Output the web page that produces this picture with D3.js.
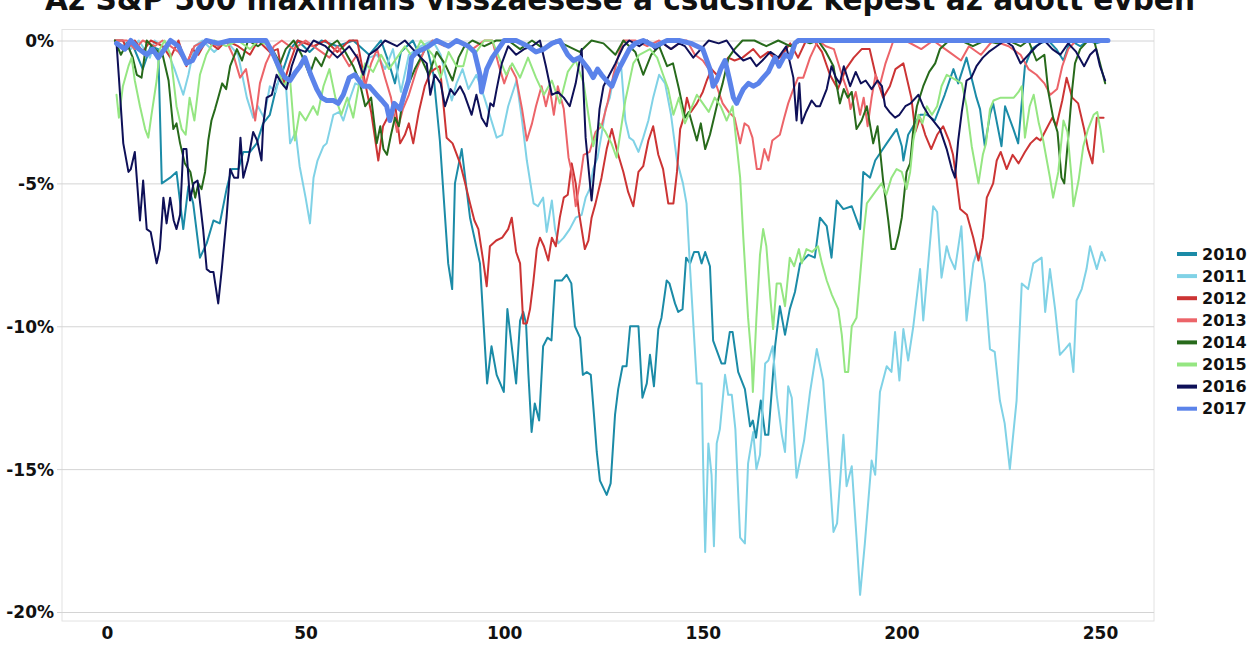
<!DOCTYPE html>
<html><head><meta charset="utf-8">
<script src="https://cdn.jsdelivr.net/npm/d3@7"></script>
<style>
html,body{margin:0;padding:0;background:#fff;}
svg{display:block;font-family:"DejaVu Sans",sans-serif;font-weight:bold;}
</style></head><body>
<svg id="chart" width="1254" height="646"></svg>
<script>
const title = "Az S&P 500 maximális visszaesése a csúcshoz képest az adott évben";
const years = ["2010","2011","2012","2013","2014","2015","2016","2017"];
const colors = ["#1b8ba7","#80d2e6","#cc3434","#ec6469","#276a1b","#95e682","#0e1058","#5b83ea"];
const yTicks = [0,-5,-10,-15,-20];
const xTicks = [0,50,100,150,200,250];

// [trading day, drawdown %]
const s2010 = [[2,0],[4,-0.2],[6,0],[9,-1.0],[11,-0.2],[12.9,-0.3],[13.8,-5.0],[15.9,-4.8],[17.5,-4.6],[19.2,-6.6],[20.5,-5.1],[21.7,-5.7],[23.4,-7.6],[25.1,-7.1],[26.8,-6.3],[28.4,-6.4],[30.1,-5.2],[31.4,-4.5],[33.1,-4.5],[34.3,-3.9],[36,-3.9],[37.7,-3.6],[39.3,-2.9],[41,-2.6],[42.7,-1.6],[44.4,-1.0],[46.1,-0.3],[48,0],[51,-0.4],[54,0],[58,-0.2],[62,0],[66,-0.5],[69,0],[71,-0.8],[72.5,-1.5],[74,-0.4],[77,0],[79,-0.6],[80.5,-0.2],[82.2,-1.2],[83.8,-3.5],[85.9,-7.8],[86.9,-8.7],[87.6,-5.0],[89.3,-3.8],[91.4,-6.2],[93.9,-7.8],[95.7,-12.0],[96.8,-10.7],[98.1,-11.7],[99.9,-12.3],[100.8,-9.4],[101.9,-10.7],[103,-12.0],[104,-9.8],[104.8,-9.5],[105.5,-9.9],[106.1,-11.7],[106.9,-13.7],[107.7,-12.7],[108.8,-13.3],[109.8,-10.7],[110.9,-10.4],[111.9,-10.5],[112.8,-8.4],[114.5,-8.4],[115.7,-8.2],[116.9,-8.5],[117.8,-10.0],[119.1,-10.4],[119.8,-11.7],[120.8,-11.6],[121.8,-11.7],[122.6,-13.1],[123.3,-14.4],[124.1,-15.4],[125.8,-15.9],[126.8,-15.5],[127.9,-13.1],[128.7,-12.2],[129.8,-11.4],[130.8,-11.4],[131.7,-10.0],[133.8,-10.0],[134.8,-12.5],[135.9,-12.0],[136.7,-11.0],[137.7,-12.1],[138.8,-10.1],[139.6,-9.7],[140.9,-8.4],[141.6,-8.5],[143,-9.2],[143.8,-9.5],[144.9,-9.4],[145.8,-7.6],[146.8,-7.8],[147.8,-7.4],[148.9,-7.4],[149.7,-7.8],[150.6,-7.4],[151.8,-7.9],[152.6,-10.5],[154.7,-11.3],[155.6,-11.3],[156.8,-10.2],[157.5,-10.2],[158.1,-10.8],[158.9,-11.6],[160.6,-12.2],[161.9,-13.5],[162.6,-13.3],[163.4,-13.9],[164.6,-12.6],[165.7,-13.8],[166.5,-13.8],[167.4,-12.2],[168.2,-10.7],[169.4,-9.3],[170.7,-10.3],[171.9,-9.4],[173.2,-8.8],[174.5,-7.8],[176.6,-7.5],[178.2,-7.6],[179.5,-6.2],[181.2,-6.5],[182.4,-7.6],[183.7,-5.6],[185.4,-5.9],[187.5,-5.8],[189.6,-6.6],[190.4,-4.6],[192.1,-4.8],[193.4,-4.2],[196.3,-3.6],[198.8,-3.1],[200.1,-3.7],[200.5,-4.2],[201.7,-3.3],[204.7,-2.6],[206.4,-2.6],[208.4,-2.8],[210.9,-1.9],[213.1,-1.0],[214.3,-1.5],[216.4,-0.6],[218.9,-2.0],[219.8,-2.4],[221,-3.7],[222.3,-2.6],[223.1,-2.2],[225.2,-3.7],[226.1,-2.3],[228.2,-3.1],[229.4,-3.6],[231.1,-0.9],[232.8,-0.3],[234.9,-0.1],[237,0],[239,-0.3],[240.8,-0.7],[242.5,0],[245,-0.2],[247,0],[249,-0.1],[251.5,0]];
const s2011 = [[2,0],[4,0],[6,-0.3],[8,0],[10.8,-0.6],[12,0],[15,-0.3],[17,-1.0],[19.2,-1.9],[20.5,-1.2],[22,-0.2],[24,0],[27,-0.4],[30,0],[33,-0.5],[35.2,-2.0],[36.8,-2.7],[38,-2.3],[39.5,-2.7],[41,-1.6],[42.5,-1.8],[44,-0.9],[45,-1.5],[46.1,-3.6],[47.5,-3.2],[48.5,-4.4],[50,-5.5],[51.1,-6.4],[52,-4.8],[53,-4.2],[54.5,-3.7],[55.3,-3.6],[57,-2.6],[58.5,-2.5],[59.5,-2.8],[61,-2.1],[62.5,-1.5],[64,-1.6],[66,-0.6],[68,-0.5],[70,-1.0],[72,-0.3],[74,-1.8],[76,-0.5],[79,-0.2],[82,0],[84,-0.5],[86.8,-2.1],[88,-1.5],[89.5,-1.0],[91,-1.7],[93,-1.2],[95,-2.0],[98.1,-3.4],[99.5,-3.3],[101,-2.3],[103.1,-1.4],[104.5,-2.8],[105.7,-4.2],[107.4,-5.7],[108.5,-5.8],[109.8,-5.5],[110.7,-6.7],[112,-5.6],[112.8,-6.6],[113.6,-7.1],[115,-6.9],[116.5,-6.6],[118,-6.2],[119.5,-6.1],[120.5,-5.5],[121.5,-5.2],[122.4,-4.5],[123.5,-4.1],[124.5,-3.3],[125.5,-2.4],[126.6,-2.0],[127.5,-1.3],[128.3,-0.7],[129.5,-1.0],[130.5,-2.8],[131.5,-3.4],[132.5,-3.5],[133.8,-3.9],[135,-3.4],[136.3,-2.8],[137.5,-2.0],[139,-1.2],[140.5,-1.5],[142,-2.6],[143.5,-4.2],[145,-5.0],[145.9,-5.7],[146.8,-8.0],[148.5,-12.0],[149.7,-12.0],[150.1,-14.9],[150.6,-17.9],[151.4,-14.1],[152.2,-15.2],[152.8,-17.7],[153.5,-14.1],[154.3,-13.6],[155.6,-11.7],[156.4,-12.4],[157.3,-12.4],[158.2,-13.6],[159.4,-17.4],[160.6,-17.6],[161.4,-14.8],[162.7,-13.7],[163.5,-15.0],[164.4,-14.5],[165.7,-11.3],[166.5,-11.2],[167.6,-10.7],[168.6,-12.4],[169.9,-13.8],[170.7,-14.4],[171.5,-12.1],[172.4,-12.5],[173.6,-15.3],[175.5,-14.0],[177,-12.3],[178.7,-10.8],[180.3,-11.9],[181.6,-14.5],[182.9,-17.2],[183.8,-16.9],[185.4,-13.8],[186.2,-15.6],[187.5,-14.9],[188.7,-17.4],[189.6,-19.4],[190.8,-17.6],[192.5,-14.7],[193.4,-15.2],[194.6,-12.3],[196.3,-11.4],[197.5,-11.6],[198.4,-10.2],[199.5,-11.9],[200.5,-10.1],[201.7,-11.2],[203,-10.0],[204.7,-8.0],[205.5,-9.8],[206.5,-8.2],[208,-5.8],[209,-6.0],[210.1,-8.3],[211.4,-7.2],[212.2,-7.6],[213.5,-8.0],[215.1,-6.5],[216.4,-9.8],[218.1,-7.8],[219,-7.4],[220,-7.6],[221,-8.5],[222.3,-10.8],[223.5,-10.9],[224.8,-12.6],[226,-13.4],[227.3,-15.0],[228,-14.0],[229,-12.6],[230.3,-8.5],[231.9,-8.7],[233.2,-7.8],[235.3,-7.6],[236.2,-9.5],[237.4,-8.0],[238.7,-9.4],[239.9,-11.0],[241.2,-10.8],[242.4,-10.6],[243.3,-11.6],[244.1,-9.1],[245.4,-8.7],[246.6,-8.0],[247.5,-7.2],[249.2,-8.0],[250.4,-7.4],[251.3,-7.7]];
const s2012 = [[2,0],[4,0],[5,-0.3],[7,0],[9,-0.4],[11,0],[14,-0.2],[16,-0.6],[18,0],[20,-0.9],[21.5,-0.3],[23,-0.5],[25,0],[28,-0.3],[30,0],[33,-0.2],[36,-0.5],[38,0],[41,-0.4],[43,-0.3],[44.5,-1.5],[46,-0.8],[48,0],[52,-0.2],[55,0],[58,-0.4],[61,0],[63,0],[65,-1.5],[66.5,-2.5],[68.3,-4.2],[69.5,-3.0],[71,-2.6],[72.5,-2.2],[73.8,-3.6],[75,-3.3],[76,-2.9],[77.1,-3.6],[78.5,-2.5],[80,-1.6],[81.5,-1.1],[82.5,-1.0],[83.8,-0.9],[85.5,-3.4],[87,-3.6],[88.9,-4.3],[90,-4.9],[91.4,-5.7],[92.5,-6.3],[93.5,-6.6],[94.7,-7.7],[95.6,-8.6],[96.4,-7.2],[98,-7.0],[99.5,-6.9],[101,-6.6],[101.9,-6.2],[103,-7.4],[104,-7.8],[104.8,-9.9],[105.7,-9.9],[106.5,-9.4],[107.3,-8.5],[108.2,-7.3],[109,-6.9],[110,-7.2],[111.1,-7.7],[112,-6.9],[113,-7.2],[114,-6.2],[115,-5.5],[116,-5.4],[117,-4.3],[118,-5.0],[118.8,-6.0],[119.5,-6.6],[120.3,-7.3],[121.2,-7.0],[122,-6.2],[123,-5.7],[124.5,-4.8],[125.8,-3.8],[127.1,-3.1],[128.5,-3.9],[130,-4.6],[131.2,-5.3],[132.5,-5.8],[133.8,-4.6],[135,-4.4],[136.3,-3.5],[137.5,-3.0],[138.8,-4.0],[140,-4.5],[141.3,-5.7],[142.6,-5.7],[143.5,-4.6],[144.3,-3.1],[145.2,-2.7],[146,-2.0],[147,-2.5],[148.5,-2.2],[150,-1.8],[151,-1.4],[152.2,-1.0],[153.5,-1.2],[155,-0.9],[156.4,-0.6],[158,-0.7],[160,-0.6],[162.7,-0.3],[164.5,-0.6],[166.5,-0.4],[168.5,-0.7],[170,-0.5],[172,-0.1],[174,-0.6],[176,0],[178,0],[180,-0.4],[182,-1.2],[184,-1.7],[186,-1.0],[188,-0.6],[190,-0.3],[192,-0.3],[193.5,-1.2],[195.4,-2.0],[197.1,-1.6],[198.5,-1.0],[200.5,-0.8],[202.5,-2.0],[203.5,-3.2],[204.7,-2.7],[206,-3.3],[207.5,-3.8],[209,-3.3],[210.5,-3.0],[212,-3.5],[213,-4.0],[213.9,-4.9],[214.8,-5.9],[216.5,-6.1],[218.1,-6.9],[219.4,-7.7],[220.5,-6.9],[221.5,-5.5],[223.1,-5.0],[224,-4.2],[225,-3.9],[226.5,-4.5],[228,-4.0],[229.5,-4.3],[231.1,-3.9],[232.5,-3.6],[234,-3.4],[235,-3.5],[236.5,-3.1],[238,-2.7],[239,-3.0],[240.5,-2.1],[241.6,-1.3],[243,-2.0],[244.5,-2.2],[246,-3.1],[247,-3.8],[248.1,-4.3],[249.2,-2.7],[250.9,-2.7]];
const s2013 = [[2,0],[5,0],[7,-0.3],[9,0],[12,-0.2],[14,0],[18,-0.4],[20,-0.8],[22,-0.2],[25,0],[28,-0.2],[30,0],[32,-0.6],[33.5,-1.3],[35,-1.0],[37.3,-2.8],[38.5,-1.5],[40,-0.8],[42,-0.2],[44,0],[47,-0.3],[50,0],[53,-0.3],[56,-0.6],[58,-0.2],[61,-0.9],[63,-0.5],[65,-1.6],[66.5,-0.8],[68,-0.3],[70,-1.3],[71.5,-2.0],[73,-3.2],[74.5,-2.4],[76,-1.9],[78,-1.0],[80,-0.3],[82,0],[85,-0.2],[88,0],[92,-0.3],[95,0],[97,0],[98.5,-0.8],[100,-1.5],[101.5,-0.9],[103,-1.3],[104.5,-2.4],[105.7,-3.5],[107,-2.9],[108,-2.3],[109.4,-1.6],[110.5,-2.3],[111.5,-1.7],[112.5,-2.6],[113.5,-1.6],[115,-2.4],[116.2,-4.1],[117,-4.6],[118,-5.8],[119,-5.0],[120,-4.0],[121.5,-3.9],[123,-3.2],[124.5,-3.0],[126,-2.2],[127.5,-1.2],[129,-0.4],[130,0],[133,0],[136,-0.2],[139,0],[142,-0.3],[145,0],[146,0],[148,-0.5],[150,-0.7],[152,-1.1],[153.5,-1.6],[155,-2.2],[156.5,-2.5],[158,-2.7],[159.4,-3.6],[160.5,-2.9],[161.5,-3.0],[162.5,-3.4],[163.6,-4.5],[164.5,-4.5],[165.5,-3.8],[166.5,-4.2],[167.5,-3.5],[169.4,-3.3],[170.5,-2.7],[171.5,-2.2],[172.8,-1.7],[174,-1.3],[175.3,-1.3],[177,-0.6],[179,0],[181,-0.2],[183,-0.3],[185,-1.2],[186.5,-1.8],[187.2,-2.4],[188.5,-1.8],[189.6,-2.6],[190.5,-2.0],[191.5,-3.0],[192.5,-2.0],[193.5,-1.2],[194.5,-1.6],[196,-0.8],[198,0],[201,0],[205,-0.3],[208,0],[212,-0.4],[215,-0.7],[217,-0.2],[220,-0.5],[223,0],[227,-0.2],[230,-0.5],[232,-1.0],[234,-1.2],[236,-1.5],[237.5,-1.9],[239.2,-1.7],[240.5,-0.9],[242,-0.3],[244,0],[247,0],[251.5,0]];
const s2014 = [[2,0],[3.5,-0.5],[5,-0.1],[6.5,-0.6],[7.5,-1.2],[8.7,-1.3],[10,0],[12,-0.3],[14,-0.5],[15.5,-1.4],[16.7,-3.1],[17.5,-2.9],[18.4,-3.6],[19.6,-4.3],[21,-4.6],[22.2,-5.5],[23,-5.0],[23.8,-5.2],[24.7,-4.6],[25.5,-3.5],[26.3,-2.8],[27.2,-2.4],[28,-2.0],[29,-1.5],[30,-1.7],[31,-0.9],[32.7,-0.3],[34,-0.7],[35.5,0],[38,-0.2],[40,0],[42,-0.4],[43.6,-0.8],[45,-0.3],[47,0],[49,-0.5],[51,-1.2],[52.5,-0.6],[54,-0.9],[56,-0.2],[58,0],[60,-0.4],[62,-0.9],[63.5,-1.4],[65,-2.3],[66.5,-2.0],[67.9,-3.6],[68.8,-3.0],[69.6,-3.8],[70.5,-4.0],[71.5,-3.3],[72.5,-2.7],[73.5,-3.0],[74.5,-2.0],[76,-1.5],[77.5,-1.0],[79,-0.6],[81,-1.2],[83,-0.4],[85,-0.8],[87,-1.4],[88.5,-0.6],[90,-0.2],[92,0],[95,-0.2],[98,0],[101,0],[104,-0.3],[107,0],[110,-0.3],[113,0],[116,-0.2],[119,-0.4],[122,0],[125,-0.1],[128,-0.5],[130,0],[133,-0.4],[135,-1.2],[137,-0.5],[139,-0.2],[141,-0.9],[142.5,-0.8],[144,-1.7],[145.5,-2.7],[146.5,-2.5],[148.5,-3.5],[149.5,-2.9],[150.6,-3.8],[151.8,-3.3],[153,-2.6],[154,-2.0],[155,-1.5],[156.5,-0.6],[158,-0.3],[160,0],[163,0],[166,-0.2],[169,0],[172,-0.2],[175,0],[177,-0.1],[179,0],[181,-0.4],[182.9,-0.9],[184.5,-2.2],[185.5,-1.7],[186.5,-2.0],[187.5,-1.8],[188.7,-3.1],[190,-2.8],[191.3,-2.3],[192.9,-3.6],[194,-3.0],[195.4,-4.9],[196.7,-6.3],[197.5,-7.3],[198.4,-7.3],[199.3,-6.8],[200.1,-6.2],[201.3,-4.6],[202.2,-4.3],[203,-3.1],[203.9,-2.3],[205.5,-1.6],[207,-1.1],[208.5,-0.8],[209.7,-0.3],[212,0],[215,0],[218,-0.2],[221,0],[224,-0.1],[227,0],[230,-0.2],[232,0],[234,-0.7],[236,-0.5],[237,-1.8],[238.2,-2.7],[239.3,-3.2],[240.3,-4.8],[241,-5.0],[242,-3.4],[243,-1.7],[243.7,-0.8],[245,-0.3],[247,0],[248.5,0],[250,-0.8],[251.3,-1.5]];
const s2015 = [[2.4,-1.9],[3,-2.7],[4,-1.6],[5.4,-0.9],[6.2,-0.6],[7,-1.4],[8.3,-2.3],[9.6,-3.1],[10.4,-3.4],[11.2,-2.6],[12.5,-1.4],[13.3,-0.3],[14.5,0],[16,-0.5],[17.5,-2.3],[18.8,-3.1],[19.8,-3.3],[20.8,-2.0],[22,-2.8],[23.4,-1.2],[25,-0.5],[27,0],[30,-0.2],[33,0],[36,-0.3],[38,0],[41,-0.2],[43,-1.0],[44.5,-1.6],[46,-1.2],[47.3,-3.5],[48.5,-2.5],[50,-2.8],[51.9,-2.3],[53,-2.6],[54.5,-1.6],[56,-1.0],[57.5,-2.0],[59,-2.6],[60.5,-2.0],[62,-2.7],[63.5,-1.5],[65,-0.8],[67,-1.1],[69,-0.5],[71,-1.0],[73,-0.6],[75,-0.2],[77,-0.6],[79,0],[82,-0.5],[84,-1.3],[86,-0.4],[88,-0.9],[89.7,-0.9],[91,-0.2],[93,-0.4],[95,0],[97,0],[99,-0.7],[100.5,-1.2],[102,-0.8],[104,-1.3],[106,-0.6],[108,-1.3],[110,-1.9],[112,-1.4],[114,-2.2],[116,-1.1],[118,-0.7],[120,-1.5],[122.4,-3.7],[124,-2.9],[125.5,-3.2],[127,-3.6],[128.3,-4.1],[129.5,-3.0],[130.5,-2.1],[132.5,-0.8],[134,-0.5],[136.7,-0.3],[138.5,-0.6],[140,-1.2],[141.3,-1.7],[142.6,-2.6],[144,-2.0],[145.5,-2.9],[147,-2.4],[148.5,-1.9],[150,-2.2],[151.5,-2.5],[153,-2.0],[154.5,-2.3],[156,-2.8],[157.5,-2.3],[159.4,-4.8],[160.2,-6.9],[161.4,-9.7],[162.3,-11.2],[162.6,-12.3],[163.5,-9.7],[164.4,-7.5],[165.2,-6.6],[166,-7.2],[167,-9.0],[167.7,-10.1],[168.6,-8.5],[169.6,-8.5],[170.7,-9.3],[171.9,-7.6],[173,-7.9],[174.2,-7.3],[174.9,-7.8],[176.1,-7.3],[177.5,-7.4],[179,-7.2],[180,-7.8],[181.2,-8.4],[182.5,-8.9],[184.1,-9.4],[185,-10.3],[185.8,-11.6],[186.6,-11.6],[187.5,-10.0],[188.7,-9.7],[190,-7.6],[190.6,-6.6],[191.3,-5.7],[193.4,-5.3],[195,-5.0],[196.2,-5.4],[197.5,-4.8],[198.8,-4.5],[200.1,-4.6],[201.3,-5.2],[202.2,-4.6],[203,-3.5],[204.3,-2.6],[205.3,-2.9],[206.4,-2.3],[207.7,-2.6],[209,-2.3],[210.1,-1.6],[211.4,-1.2],[212.7,-1.3],[214,-1.4],[215.2,-1.5],[216.4,-2.3],[217.7,-3.7],[219.4,-5.0],[220.5,-4.0],[221.3,-3.6],[222.3,-2.4],[223.2,-2.1],[225,-2.0],[226.9,-2.0],[228.3,-2.0],[229.5,-1.8],[230.3,-1.6],[231.1,-3.4],[232.3,-2.3],[233.3,-1.9],[234.6,-2.9],[235.7,-3.5],[237.4,-4.8],[238.2,-5.5],[239.5,-4.6],[240.8,-2.8],[241.8,-3.2],[242.9,-4.9],[243.3,-5.8],[244.6,-4.9],[245.8,-3.7],[247,-3.1],[248.4,-2.6],[249.3,-2.5],[250.1,-3.1],[250.9,-3.9]];
const s2016 = [[2.4,-0.1],[3,-1.3],[4.1,-3.6],[5.4,-4.6],[6,-4.5],[7,-3.9],[8.3,-6.3],[9.1,-4.9],[10,-6.6],[11,-6.7],[12.5,-7.8],[13.3,-7.3],[14.2,-5.5],[15,-6.4],[15.9,-5.5],[16.8,-6.3],[17.5,-6.6],[18.4,-6.1],[19.2,-3.8],[20,-3.8],[20.9,-5.6],[21.8,-5.0],[22.8,-4.9],[24.2,-6.6],[25.1,-8.0],[26,-8.1],[26.8,-8.1],[28,-9.2],[28.9,-8.0],[30.1,-6.2],[31,-4.5],[32,-4.8],[33,-4.8],[33.6,-3.4],[34.3,-4.8],[35.5,-4.2],[36.8,-3.2],[37.8,-3.5],[38.9,-4.2],[39.3,-3.0],[40.2,-2.0],[41.5,-1.9],[42.7,-1.2],[44,-1.5],[45.2,-1.7],[46.5,-0.9],[48,-0.3],[50,-0.4],[52,0],[55,-0.2],[58,-0.6],[61,-0.2],[63,-0.6],[64.5,-1.2],[66,-0.5],[68,-0.3],[70,0],[73,-0.2],[75,0],[77,-0.3],[79,-0.6],[80.5,-0.8],[81.4,-1.9],[82.5,-1.2],[84,-1.5],[85.1,-2.3],[86.5,-1.7],[87.5,-1.9],[88.9,-1.6],[90,-1.9],[91.8,-2.6],[93,-1.9],[94.3,-2.7],[95.6,-3.0],[96.5,-2.2],[97.3,-2.3],[98.1,-1.7],[99.4,-0.8],[101,-0.2],[103,-0.5],[105,-0.3],[107,-0.2],[109,0],[110.5,-0.9],[112,-1.9],[113.5,-1.8],[115,-2.0],[116.5,-2.3],[118,-1.5],[119.5,-0.3],[120.5,-3.4],[122,-5.6],[123,-4.1],[124,-2.4],[125,-1.6],[126.5,-1.2],[128,-0.8],[130,-0.2],[131.5,0],[134,-0.2],[136,0],[138,-0.3],[140,-0.1],[142,-0.3],[144,-0.1],[145.5,-0.2],[147.6,-0.6],[149.5,-0.3],[151.5,0],[154,-0.1],[156,0],[158,-0.4],[160.2,-0.7],[162,-0.6],[163.5,-0.9],[165,-0.7],[167,-0.4],[169,-0.6],[171,-0.2],[172.8,-1.3],[173.6,-2.8],[174.3,-1.5],[174.9,-2.9],[176,-2.5],[177.4,-2.1],[178.5,-2.3],[179.5,-2.3],[181.2,-1.7],[182.4,-0.9],[183.5,-1.3],[184.5,-1.5],[185.5,-0.9],[187.1,-1.6],[188.5,-1.1],[189.8,-1.5],[191,-1.4],[192.5,-1.7],[194,-1.4],[195.1,-1.6],[195.9,-2.3],[197,-2.5],[198.4,-2.7],[199.5,-2.6],[201,-2.3],[202.3,-2.2],[204.3,-1.9],[205.5,-2.3],[206.8,-2.6],[208,-2.8],[209.7,-3.1],[211.4,-3.8],[212.7,-4.5],[213.5,-4.8],[214.3,-3.5],[215.2,-2.5],[216.4,-1.4],[217.6,-1.3],[218.9,-0.9],[220.5,-0.6],[222,-0.4],[224,-0.2],[226,0],[228,-0.2],[230,-0.8],[232,-0.5],[234,-0.2],[236,0],[238,-0.3],[240,-0.5],[242,-0.1],[244,-0.4],[246,-0.9],[247.5,-0.5],[249,-0.3],[250,-0.9],[251.3,-1.4]];
const s2017 = [[2.4,-0.1],[4.5,-0.3],[6,0],[8,-0.3],[10,-0.5],[11.5,-0.3],[12.9,-0.6],[14.5,-0.3],[16,0],[18,-0.2],[20,-0.8],[21.5,-0.7],[23,-0.3],[25,0],[28,-0.1],[31,0],[35,0],[38,0],[40,0],[41.9,-0.5],[43.5,-1.0],[44.8,-1.3],[46.1,-1.4],[47.5,-1.1],[48.6,-0.9],[49.8,-0.6],[51.3,-1.2],[52.8,-1.7],[54,-2.0],[55.3,-2.1],[57,-2.1],[58.2,-2.2],[59.5,-1.9],[61,-1.3],[62.4,-1.2],[64.5,-1.6],[66,-1.6],[67.9,-1.9],[69.2,-2.1],[70.4,-2.3],[71.2,-2.8],[72.3,-2.2],[73.8,-2.4],[74.8,-1.9],[75.9,-1.4],[76.7,-0.6],[78,-0.4],[79.6,-0.3],[81,-0.2],[83,0],[86,-0.2],[88,0],[91,-0.2],[92.5,-0.4],[93.9,-1.2],[94.3,-1.8],[95.6,-1.0],[97,-0.6],[98.5,-0.3],[100,0],[103,0],[106,-0.2],[108,-0.4],[110,-0.3],[112,-0.1],[114,0],[116,-0.5],[117.4,-0.7],[119,-0.6],[121.2,-1.0],[122.4,-1.3],[123.5,-1.0],[124.5,-1.2],[125.7,-1.4],[127.1,-1.6],[128.5,-1.1],[130,-0.7],[131.5,-0.3],[133,-0.1],[135,0],[138,-0.2],[141,0],[144,0],[147,-0.1],[150,-0.3],[151.8,-1.0],[152.6,-1.6],[153.5,-1.4],[154.5,-1.0],[155.6,-0.7],[156.6,-1.3],[157.7,-2.0],[158.5,-2.2],[159.5,-1.9],[160.2,-1.7],[161.5,-1.5],[162.7,-1.6],[164,-1.5],[165.2,-1.3],[166.5,-1.1],[168.2,-0.6],[169.2,-0.9],[170.7,-0.5],[172,-0.6],[173.2,-0.1],[174,0],[252,0]];

const seriesData = [s2010,s2011,s2012,s2013,s2014,s2015,s2016,s2017];

const svg = d3.select("#chart");
const panel = {left:62, right:1154, top:29.5, bottom:621};
const x = d3.scaleLinear().domain([0,250]).range([107,1100]);
const y = d3.scaleLinear().domain([0,-20]).range([40.5,612]);

// title (partly cut at top)
svg.append("text").attr("x",620).attr("y",10).attr("text-anchor","middle")
  .attr("font-size",30).attr("fill","#111").attr("textLength",1150)
  .attr("lengthAdjust","spacingAndGlyphs").text(title);

// panel border
svg.append("rect").attr("x",panel.left).attr("y",panel.top)
  .attr("width",panel.right-panel.left).attr("height",panel.bottom-panel.top)
  .attr("fill","none").attr("stroke","#e2e2e2").attr("stroke-width",1);

// y grid + axis
const yAxis = d3.axisLeft(y).tickValues(yTicks).tickSize(panel.right-panel.left+5)
  .tickFormat(d=>d+"%");
const gy = svg.append("g").attr("transform",`translate(${panel.right},0)`).call(yAxis);
gy.select(".domain").remove();
gy.selectAll(".tick line").attr("stroke","#d4d4d4").attr("stroke-width",1);
gy.selectAll(".tick text").attr("x",-(panel.right-panel.left)-8).attr("dy","0.35em")
  .attr("font-size",17).attr("font-family","DejaVu Sans").attr("font-weight","bold").attr("fill","#111");

// x axis labels
const xAxis = d3.axisBottom(x).tickValues(xTicks).tickSize(0).tickPadding(6);
const gx = svg.append("g").attr("transform",`translate(0,${panel.bottom})`).call(xAxis);
gx.select(".domain").remove();
gx.selectAll(".tick text").attr("font-size",17).attr("font-family","DejaVu Sans")
  .attr("font-weight","bold").attr("fill","#111");

// lines
const line = d3.line().x(d=>x(d[0])).y(d=>y(d[1]));
const g = svg.append("g");
seriesData.forEach((s,i)=>{
  g.append("path").datum(s).attr("d",line).attr("fill","none")
    .attr("stroke",colors[i]).attr("stroke-width",i===7?5:2)
    .attr("stroke-linejoin","round").attr("stroke-linecap","round");
});

// legend
const lg = svg.append("g");
years.forEach((yr,i)=>{
  const yy = 254 + i*22.1;
  lg.append("line").attr("x1",1177).attr("x2",1197).attr("y1",yy).attr("y2",yy)
    .attr("stroke",colors[i]).attr("stroke-width",4);
  lg.append("text").attr("x",1202).attr("y",yy).attr("dy","0.36em")
    .attr("font-size",16).attr("fill","#111").text(yr);
});
</script>
</body></html>
